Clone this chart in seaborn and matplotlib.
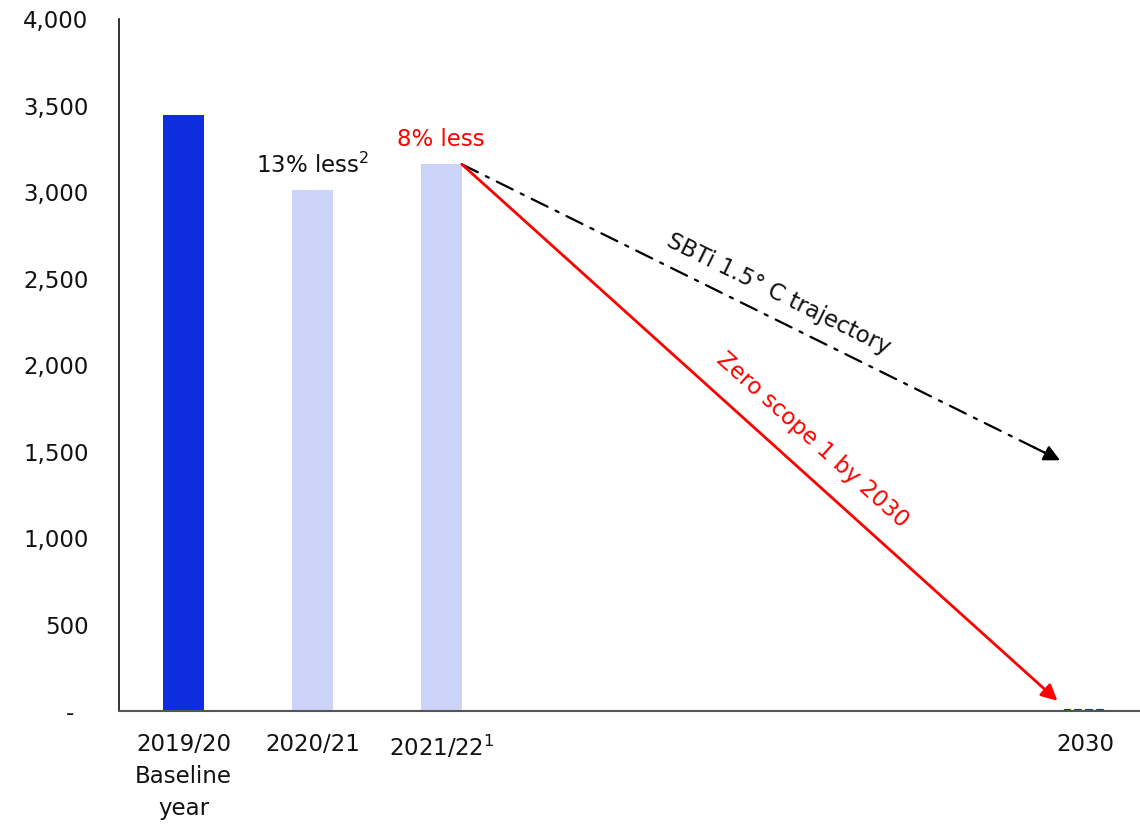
import matplotlib
matplotlib.use('Agg')
import matplotlib.pyplot as plt
import seaborn as sns
import pandas as pd
from matplotlib.ticker import FuncFormatter

# data
years = ['2019/20\nBaseline\nyear', '2020/21', '2021/22$^{1}$', '2030']
emissions = [3445, 3010, 3160, 0]
xpos = [0, 1, 2, 7]
bar_colors = ['#0D2DDE', '#CBD3F9', '#CBD3F9', '#CBD3F9']
sbti_end = 1450
zero_end = 60

sns.set_theme(style='white')
plt.rcParams['font.family'] = ['DejaVu Sans']
plt.rcParams['mathtext.fontset'] = 'dejavusans'

fs = 16.5

df = pd.DataFrame({'x': xpos, 'value': emissions, 'label': years})

fig = plt.figure(figsize=(11.4, 8.26), dpi=100)
ax = fig.add_axes([0.1044, 0.139, 0.8956, 0.838])

sns.barplot(data=df, x='x', y='value', hue='x', palette=bar_colors,
            native_scale=True, width=0.32, legend=False, ax=ax, saturation=1,
            linewidth=0)

# 2030 target bar: dashed outline at zero
ax.bar(7, 6, width=0.32, bottom=0, fill=False, edgecolor='#0D2DDE',
       linestyle='--', linewidth=1.5)

ax.set_xlim(-0.5, 7.42)
ax.set_ylim(0, 4000)
ax.set_yticks(range(0, 4001, 500))
ax.yaxis.set_major_formatter(FuncFormatter(lambda v, p: '-  ' if v == 0 else f'{int(v):,}'))
ax.set_xticks(xpos)
ax.set_xticklabels(years, linespacing=1.5)
ax.tick_params(axis='y', length=0, pad=22, labelsize=fs, colors='#111111')
ax.tick_params(axis='x', length=0, pad=16, labelsize=fs, colors='#111111')
ax.set_xlabel('')
ax.set_ylabel('')

for s in ['top', 'right']:
    ax.spines[s].set_visible(False)
ax.spines['left'].set_color('#111111')
ax.spines['left'].set_linewidth(1.2)
ax.spines['bottom'].set_color('#555555')
ax.spines['bottom'].set_linewidth(1.5)

# annotations above bars
ax.text(1, 3080, '13% less$^{2}$', ha='center', va='bottom', fontsize=fs, color='#111111')
ax.text(2, 3240, '8% less', ha='center', va='bottom', fontsize=fs, color='#FF0000')

# trajectories
start = (2.16, emissions[2])
sbti_xy = (6.8, sbti_end)
ax.annotate('', xy=sbti_xy, xytext=start,
            arrowprops=dict(arrowstyle='-', color='black', lw=1.6,
                            linestyle=(0, (8, 4, 1.5, 4)),
                            shrinkA=0, shrinkB=8))
ax.annotate('', xy=sbti_xy, xytext=(6.6, sbti_end + 0.2 * (emissions[2] - sbti_end) / 4.64),
            arrowprops=dict(arrowstyle='-|>', color='black', lw=1.6,
                            mutation_scale=24, shrinkA=0, shrinkB=0))
ax.annotate('', xy=(6.78, zero_end), xytext=start,
            arrowprops=dict(arrowstyle='-|>', color='#FF0000', lw=2,
                            mutation_scale=24, shrinkA=0, shrinkB=0))

ax.text(4.62, 2410, 'SBTi 1.5° C trajectory', rotation=-26.3, ha='center', va='center',
        fontsize=fs, color='#111111', rotation_mode='anchor')
ax.text(4.88, 1570, 'Zero scope 1 by 2030', rotation=-42, ha='center', va='center',
        fontsize=fs, color='#FF0000', rotation_mode='anchor')

fig.savefig('out.png', dpi=100)
